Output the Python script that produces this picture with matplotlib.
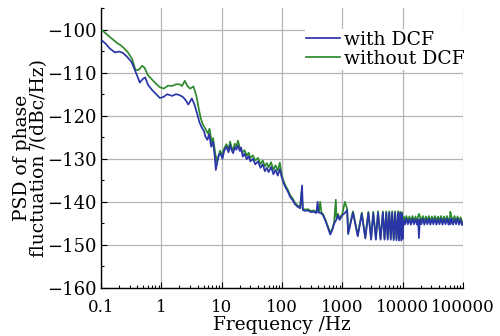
import matplotlib
matplotlib.use("Agg")
import matplotlib.pyplot as plt
from matplotlib.ticker import FixedLocator, FixedFormatter, LogLocator, MultipleLocator, NullFormatter

plt.rcParams["font.family"] = ["DejaVu Serif"]

# ---- datos ----
freq_dcf = [0.105, 0.12, 0.14, 0.17, 0.20, 0.23, 0.27, 0.32, 0.36, 0.40, 0.44, 0.49, 0.54, 0.60,
            0.70, 0.82, 0.95, 1.1, 1.25, 1.5, 1.75, 2.0, 2.3, 2.5, 2.8, 3.2, 3.5, 3.9, 4.3, 4.7,
            5.1, 5.4, 5.8, 6.2, 6.7, 7.2, 7.7, 8.0, 8.4, 9.0, 9.6, 10.3, 11, 12, 13, 13.8, 14.5,
            15.5, 16.5, 17.5, 18.6, 20, 21, 22.4, 24, 26, 28, 30, 33, 36, 40, 44, 48, 52, 56, 60,
            66, 72, 78, 85, 92, 98, 105, 115, 125, 137, 150, 165, 180, 200, 215, 222, 240, 270,
            300, 330, 370, 390, 405, 440, 480, 530, 580, 630, 680, 730, 800, 850, 900, 1000,
            1100, 1200, 1250, 1500, 1800, 2100, 2400, 2700, 3000, 3250, 3600, 3900, 4300, 4700,
            5000, 5350, 5650, 6000, 6350, 6700, 7100, 7500, 7900, 8400, 8700, 9100, 9500, 9800,
            10000, 10300, 10900, 11500, 12200, 12900, 13700, 14500, 15400, 16300, 17300, 18000,
            18600, 19300, 20400, 21600, 22900, 24300, 25700, 27200, 28800, 30500, 32300, 34200,
            36300, 38400, 40700, 43100, 45700, 48400, 51300, 54300, 57500, 60900, 61600, 64500,
            68300, 72400, 76700, 81200, 86000, 91100, 96500, 100000]
psd_dcf = [-102.6, -103.3, -104.4, -105.3, -105.1, -105.4, -106.3, -107.5, -109.2, -110.8, -112.3,
           -111.5, -111.1, -112.8, -114.0, -115.0, -115.9, -115.6, -115.0, -115.4, -115.0, -115.2,
           -115.7, -116.3, -117.4, -116.0, -117.2, -119.4, -121.6, -122.8, -123.6, -124.9, -125.6,
           -124.2, -127.2, -126.0, -129.6, -132.6, -131.0, -129.0, -128.8, -130.0, -128.2, -127.2,
           -128.5, -126.8, -127.9, -128.7, -127.3, -127.9, -126.9, -128.2, -127.4, -129.5, -128.8,
           -130.1, -129.4, -130.6, -130.0, -131.3, -130.6, -132.1, -131.3, -132.9, -132.1, -133.1,
           -131.9, -133.6, -132.6, -133.9, -132.4, -134.1, -135.5, -136.7, -137.6, -138.9, -139.6,
           -140.6, -141.1, -141.5, -136.2, -141.9, -142.1, -142.0, -142.4, -142.3, -142.6, -140.0,
           -142.5, -142.6, -143.1, -144.6, -146.1, -147.6, -146.6, -145.1, -144.1, -143.1, -144.2,
           -143.1, -142.6, -141.9, -147.5, -142.5, -148.0, -142.8, -148.5, -142.6, -148.8, -142.6,
           -148.8, -142.5, -148.8, -142.5, -148.8, -142.5, -148.8, -142.5, -148.8, -142.5, -148.9,
           -142.5, -148.9, -142.5, -149.0, -142.6, -149.0, -142.7, -148.6,
           -144.2, -145.3, -143.9, -145.2, -144.0, -145.3, -143.9, -145.2, -144.0, -145.3, -144.1,
           -148.4, -144.0, -145.2, -143.9, -145.3, -144.0, -145.2, -143.9, -145.3, -144.0, -145.2,
           -143.9, -145.3, -144.0, -145.2, -143.9, -145.3, -144.0, -145.2, -143.9, -145.3, -144.0,
           -145.2, -143.9, -145.3, -144.0, -145.2, -143.9, -145.3, -144.1, -145.4, -145.0]

freq_nodcf = [0.105, 0.12, 0.15, 0.18, 0.21, 0.24, 0.28, 0.33, 0.37, 0.42, 0.48, 0.53, 0.60, 0.70,
              0.82, 0.95, 1.1, 1.3, 1.5, 1.75, 2.0, 2.2, 2.45, 2.7, 3.0, 3.4, 3.8, 4.2, 4.5, 4.9,
              5.3, 5.9, 6.3, 6.8, 7.2, 7.8, 8.3, 8.8, 9.4, 10, 11, 12, 13, 13.8, 14.5, 15.5, 16.5,
              17.5, 18.6, 20, 22, 24, 26, 28, 30, 33, 36, 40, 44, 48, 52, 56, 60, 66, 72, 78, 85,
              92, 98, 105, 115, 125, 137, 150, 165, 180, 200, 212, 220, 240, 270, 300, 330, 370,
              410, 430, 450, 480, 530, 580, 630, 680, 730, 780, 800, 850, 900, 1000, 1100, 1200,
              1250, 1500, 1800, 2100, 2400, 2700, 3000, 3250, 3600, 3900, 4300, 4700, 5000, 5350,
              5650, 6000, 6350, 6700, 7100, 7500, 7900, 8400, 8700, 9100, 9500, 9800, 10000,
              10300, 10900, 11500, 12200, 12900, 13700, 14500, 15400, 16300, 17300, 18000,
              18600, 19300, 20400, 21600, 22900, 24300, 25700, 27200, 28800, 30500, 32300, 34200,
              36300, 38400, 40700, 43100, 45700, 48400, 51300, 54300, 57500, 60900, 61600, 64500,
              68300, 72400, 76700, 81200, 86000, 91100, 96500, 100000]
psd_nodcf = [-100.2, -100.9, -102.1, -103.0, -103.6, -104.3, -105.3, -106.9, -109.3, -109.4, -108.4,
             -108.9, -110.6, -111.6, -112.6, -113.4, -113.7, -113.0, -113.1, -112.7, -112.7, -113.1,
             -111.9, -113.1, -113.7, -113.2, -115.3, -118.6, -120.6, -122.1, -122.9, -124.1, -123.0,
             -126.1, -125.2, -128.6, -130.6, -129.6, -128.1, -129.1, -127.6, -126.6, -127.8, -126.0,
             -127.2, -128.0, -126.5, -127.2, -125.8, -127.4, -128.6, -128.0, -129.3, -128.6, -129.8,
             -129.2, -130.4, -129.8, -131.2, -130.4, -131.8, -131.0, -132.0, -130.8, -132.6, -131.5,
             -132.8, -130.9, -133.4, -135.0, -136.3, -137.2, -138.5, -139.2, -140.3, -140.8, -141.2,
             -137.6, -141.6, -141.8, -141.7, -142.1, -142.0, -142.3, -142.2, -140.0, -142.4, -142.9,
             -144.3, -145.8, -147.2, -146.3, -144.8, -139.5, -143.8, -142.8, -143.9, -142.8, -140.0,
             -141.6, -147.2, -142.2, -147.7, -142.5, -148.2, -142.3, -148.5, -142.3, -148.5, -142.2,
             -148.5, -142.2, -148.5, -142.2, -148.5, -142.2, -148.5, -142.2, -148.6, -142.2, -148.6,
             -142.2, -148.7, -142.3, -148.7, -142.4, -148.3,
             -143.4, -144.4, -143.3, -144.4, -143.4, -144.5, -143.3, -144.4, -143.4, -144.5, -143.4,
             -142.8, -143.4, -144.4, -143.3, -144.5, -143.4, -144.4, -143.3, -144.5, -143.4, -144.4,
             -143.3, -144.5, -143.4, -144.4, -143.3, -144.5, -143.4, -144.4, -143.3, -144.5, -143.4,
             -142.3, -143.5, -144.4, -143.3, -144.5, -143.4, -144.5, -143.6, -144.6, -144.8]

xticks = [0.1, 1, 10, 100, 1000, 10000, 100000]
xtick_labels = ["0.1", "1", "10", "100", "1000", "10000", "100000"]

fig = plt.figure(figsize=(5.0, 3.36), dpi=100)
ax = fig.add_axes([0.202, 0.143, 0.724, 0.833])

ax.plot(freq_nodcf, psd_nodcf, color="#2e8a2e", lw=1.25, label="without DCF", zorder=3)
ax.plot(freq_dcf, psd_dcf, color="#2b35a8", lw=1.25, label="with DCF", zorder=4)

ax.set_xscale("log")
ax.set_xlim(0.1, 100000)
ax.set_ylim(-160, -95)
ax.xaxis.set_major_locator(FixedLocator(xticks))
ax.xaxis.set_major_formatter(FixedFormatter(xtick_labels))
ax.xaxis.set_minor_locator(LogLocator(base=10, subs=range(2, 10), numticks=20))
ax.xaxis.set_minor_formatter(NullFormatter())
ax.yaxis.set_major_locator(MultipleLocator(10))
ax.yaxis.set_minor_locator(MultipleLocator(5))
ax.tick_params(which="both", direction="in", width=0.8)
ax.tick_params(which="major", length=4)
ax.tick_params(which="minor", length=2.5)
ax.tick_params(axis="x", labelsize=12, pad=8)
ax.tick_params(axis="y", labelsize=13, pad=3)
ax.grid(True, which="major", color="#b4b4b4", lw=0.9)
ax.set_axisbelow(True)
for s in ("top", "right"):
    ax.spines[s].set_visible(False)
for s in ("left", "bottom"):
    ax.spines[s].set_linewidth(1.0)

ax.set_xlabel("Frequency /Hz", fontsize=13.3, labelpad=0)
ax.set_ylabel("PSD of phase\nfluctuation /(dBc/Hz)", fontsize=13.5, linespacing=1.0)
ax.yaxis.set_label_coords(-0.145, 0.464)

h, l = ax.get_legend_handles_labels()
leg = ax.legend(h[::-1], l[::-1], loc="upper right", bbox_to_anchor=(1.01, 0.925), fontsize=13.5,
                frameon=True, framealpha=1, edgecolor="none", facecolor="white",
                handlelength=1.8, handletextpad=0.2, labelspacing=0.05, borderpad=0.1,
                borderaxespad=0.0)
leg.get_frame().set_boxstyle("square", pad=0)

fig.savefig("out.png", dpi=100)
